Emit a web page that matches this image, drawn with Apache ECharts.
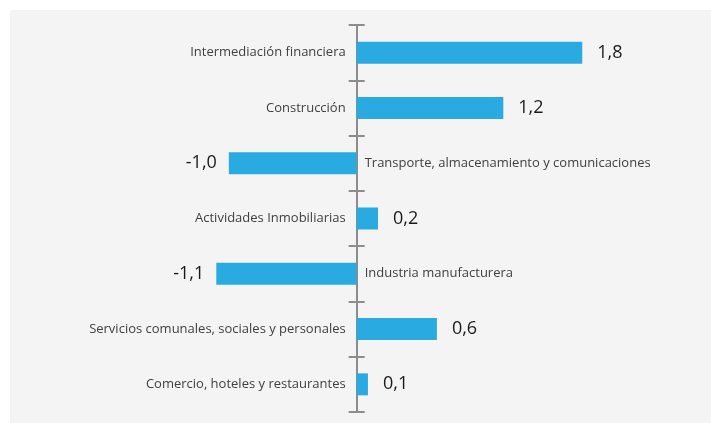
<!DOCTYPE html>
<html><head><meta charset="utf-8">
<script src="https://cdn.jsdelivr.net/npm/echarts@6/dist/echarts.min.js"></script>
<style>html,body{margin:0;padding:0;background:#fff;}#c{width:711px;height:423px;}</style>
</head><body><div id="c"></div>
<script>
const categories = [
  "Intermediación financiera",
  "Construcción",
  "Transporte, almacenamiento y comunicaciones",
  "Actividades Inmobiliarias",
  "Industria manufacturera",
  "Servicios comunales, sociales y personales",
  "Comercio, hoteles y restaurantes"
];
const values = [1.8, 1.17, -1.02, 0.17, -1.12, 0.64, 0.09];

const FONT = "Open Sans";
const chart = echarts.init(document.getElementById('c'));
const xMin = -2, xMax = 2.5;
const gridBase = {left: 106, right: 41, top: 25, bottom: 11, containLabel: false};
const xBase = {type: 'value', min: xMin, max: xMax, show: false};
const yBase = {
  type: 'category', data: categories, inverse: true,
  axisLine: {onZero: true, lineStyle: {color: '#8c8c8c', width: 2}},
  axisLabel: {show: false}, splitLine: {show: false}
};
chart.setOption({
  backgroundColor: '#ffffff',
  animation: false,
  graphic: [{type: 'rect', left: 10, top: 10, shape: {width: 701, height: 413}, style: {fill: '#f4f4f4'}, z: -10}],
  grid: [gridBase, Object.assign({}, gridBase)],
  xAxis: [Object.assign({gridIndex: 0}, xBase), Object.assign({gridIndex: 1}, xBase)],
  yAxis: [
    Object.assign({gridIndex: 0}, yBase, {axisTick: {show: true, length: 8, lineStyle: {color: '#8c8c8c', width: 2}}}),
    Object.assign({gridIndex: 1}, yBase, {axisTick: {show: true, inside: true, length: 8, lineStyle: {color: '#8c8c8c', width: 2}}})
  ],
  series: [
    {
      type: 'bar', xAxisIndex: 0, yAxisIndex: 0, barWidth: 22, z: 1,
      itemStyle: {color: '#29abe2'},
      data: values.map(v => ({
        value: v,
        label: {position: v >= 0 ? 'right' : 'left', distance: v >= 0 ? 15 : 12}
      })),
      label: {
        show: true, fontFamily: FONT, fontSize: 18, color: '#1a1a1a',
        formatter: p => p.value.toFixed(1).replace('.', ',')
      }
    },
    {
      type: 'bar', xAxisIndex: 0, yAxisIndex: 0, barWidth: 22, barGap: '-100%', z: 5,
      itemStyle: {color: 'rgba(0,0,0,0)'},
      data: values.map(v => ({
        value: 0,
        label: {position: v >= 0 ? 'left' : 'right', distance: v >= 0 ? 11 : 8}
      })),
      label: {show: true, fontFamily: FONT, fontSize: 13, color: '#404040', formatter: '{b}'}
    }
  ]
});
</script></body></html>
